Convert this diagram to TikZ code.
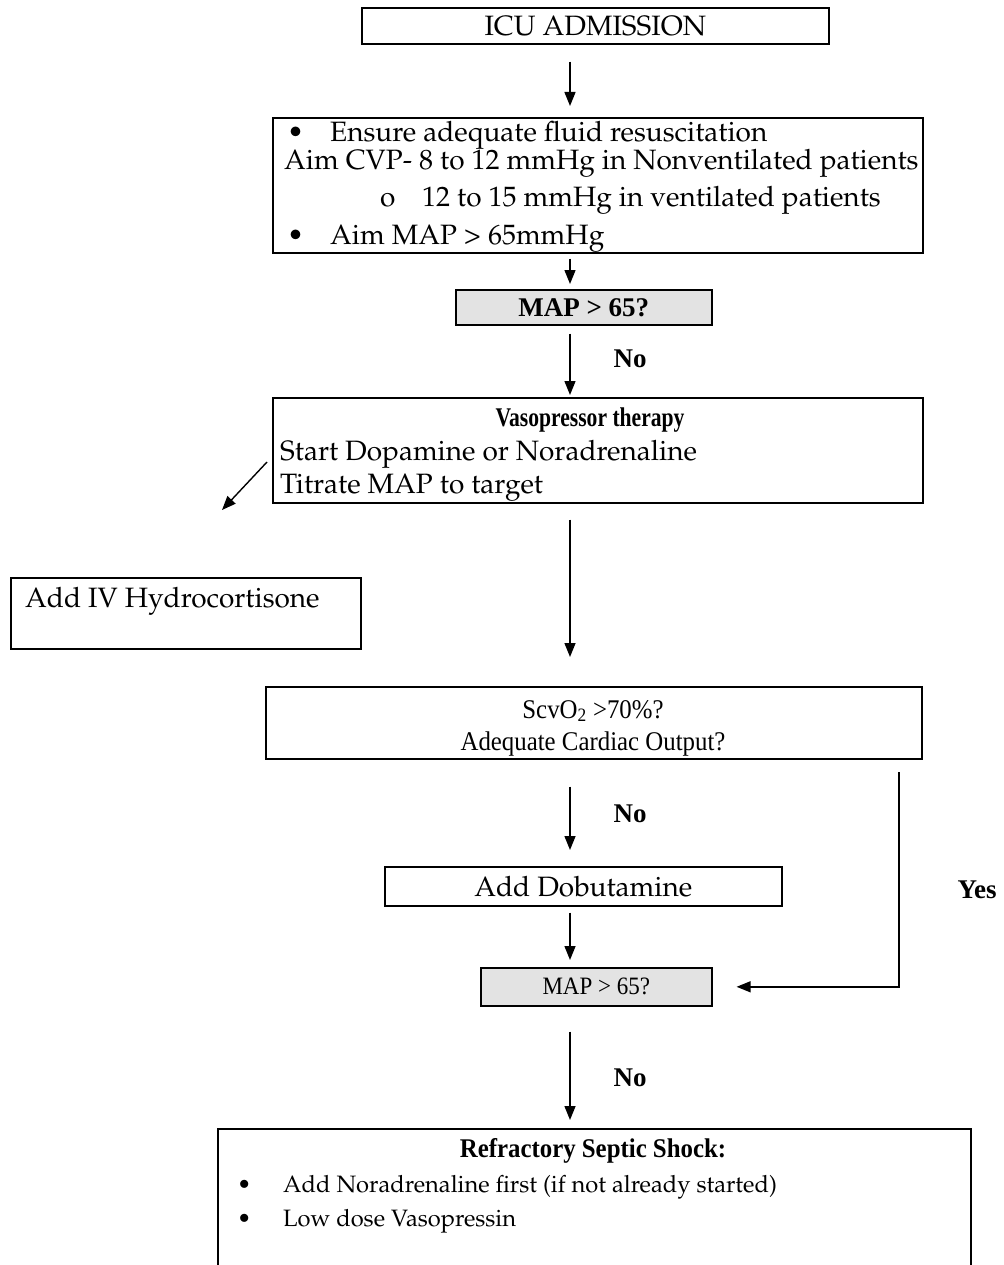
\documentclass[tikz,border=0pt]{standalone}
\usepackage[T1]{fontenc}
\usepackage{fontspec}
\usetikzlibrary{arrows.meta,positioning}

\newcommand\pal{\fontencoding{T1}\fontfamily{ppl}\selectfont}
\newfontfamily\tms{Liberation Serif}
\newfontfamily\tmsc{Liberation Serif}[FakeStretch=0.92]
\newfontfamily\tmsn{Liberation Serif}[FakeStretch=0.8]

\begin{document}
\begin{tikzpicture}[
  x=1pt, y=-1pt,
  font=\pal\fontsize{28}{34}\selectfont,
  box/.style={draw=black, rectangle, line width=1.6pt, inner sep=0pt,
              anchor=north west},
  qbox/.style={box, fill=black!11},
  txt/.style={anchor=base west, inner sep=0pt},
  mid/.style={anchor=base, inner sep=0pt},
  small/.style={font=\pal\fontsize{23.7}{28}\selectfont},
  times/.style={font=\tmsc\fontsize{27}{30}\selectfont},
  head/.style={anchor=base, inner sep=0pt, font=\tms\bfseries\fontsize{27}{30}\selectfont},
  arrow/.style={-{Triangle[length=14pt, width=11pt]}, line width=1.4pt},
]
  \useasboundingbox (0,0) rectangle (1003,1265);
  \coordinate (spine) at (570,0);

  % boxes
  \node[box, minimum width=467pt, minimum height=36pt] (icu) at (361,7) {};
  \node at (icu.center) (icutxt) {ICU ADMISSION};

  \node[box, minimum width=650pt, minimum height=135pt] (fluid) at (272,117) {};
  \node[txt] (f1b) at (287,142) {\textbullet};
  \node[txt] (f1) at (330,142) {Ensure adequate fluid resuscitation};
  \node[txt] (f2) at (284,170) {Aim CVP- 8 to 12 mmHg in Nonventilated patients};
  \node[txt] (f3b) at (380,207) {o};
  \node[txt] (f3) at (422,207) {12 to 15 mmHg in ventilated patients};
  \node[txt] (f4b) at (287,244) {\textbullet};
  \node[txt] (f4) at (330,244) {Aim MAP > 65mmHg};

  \node[qbox, minimum width=256pt, minimum height=35pt] (map1) at (455,289) {};
  \node[head, anchor=center] at (map1.center) (map1txt) {MAP > 65?};

  \node[box, minimum width=650pt, minimum height=105pt] (vaso) at (272,397) {};
  \node[head, font=\tmsn\bfseries\fontsize{27}{30}\selectfont] (v1) at (590,426) {Vasopressor therapy};
  \node[txt] (v2) at (280,460) {Start Dopamine or Noradrenaline};
  \node[txt] (v3) at (280,493) {Titrate MAP to target};

  \node[box, minimum width=350pt, minimum height=71pt] (hydro) at (10,577) {};
  \node[txt] (h1) at (25,607) {Add IV Hydrocortisone};

  \node[box, minimum width=656pt, minimum height=72pt] (scv) at (265,686) {};
  \node[mid, times] (s1) at (593,718) {ScvO\textsubscript{2} >70\%?};
  \node[mid, times] (s2) at (593,750) {Adequate Cardiac Output?};

  \node[box, minimum width=397pt, minimum height=39pt] (dob) at (384,866) {};
  \node at (dob.center) (dobtxt) {Add Dobutamine};

  \node[qbox, minimum width=231pt, minimum height=38pt] (map2) at (480,967) {};
  \node[font=\tmsc\fontsize{25}{28}\selectfont] at (map2.center) (map2txt) {MAP > 65?};

  \node[box, minimum width=753pt, minimum height=160pt] (shock) at (217,1128) {};
  \node[head, font=\tmsc\bfseries\fontsize{27}{30}\selectfont] (r1) at (593,1157) {Refractory Septic Shock:};
  \node[txt, small] (r2b) at (237,1192) {\textbullet};
  \node[txt, small] (r2) at (283,1192) {Add Noradrenaline first (if not already started)};
  \node[txt, small] (r3b) at (237,1226) {\textbullet};
  \node[txt, small] (r3) at (283,1226) {Low dose Vasopressin};

  % arrows
  \draw[arrow, shorten <=17pt, shorten >=11pt] (icu.south -| spine) -- (fluid.north -| spine);
  \draw[arrow, shorten <=5pt, shorten >=5pt] (fluid.south -| spine) -- (map1.north -| spine);
  \draw[arrow, shorten <=8pt, shorten >=2pt] (map1.south -| spine) -- (vaso.north -| spine);
  \node[head] (no1) at (630,367) {No};

  \coordinate (hstart) at (267,462);
  \coordinate (hend) at (222,510);
  \draw[arrow] (hstart) -- (hend);

  \draw[arrow, shorten <=16pt, shorten >=29pt] (vaso.south -| spine) -- (scv.north -| spine);
  \draw[arrow, shorten <=27pt, shorten >=16pt] (scv.south -| spine) -- (dob.north -| spine);
  \node[head] (no2) at (630,822) {No};
  \draw[arrow, shorten <=6pt, shorten >=7pt] (dob.south -| spine) -- (map2.north -| spine);

  \coordinate (yestop) at (899,772);
  \draw[arrow, shorten >=24pt] (yestop) |- (map2.east);
  \node[head] (yes) at (977,898) {Yes};

  \draw[arrow, shorten <=25pt, shorten >=8pt] (map2.south -| spine) -- (shock.north -| spine);
  \node[head] (no3) at (630,1086) {No};
\end{tikzpicture}
\end{document}
